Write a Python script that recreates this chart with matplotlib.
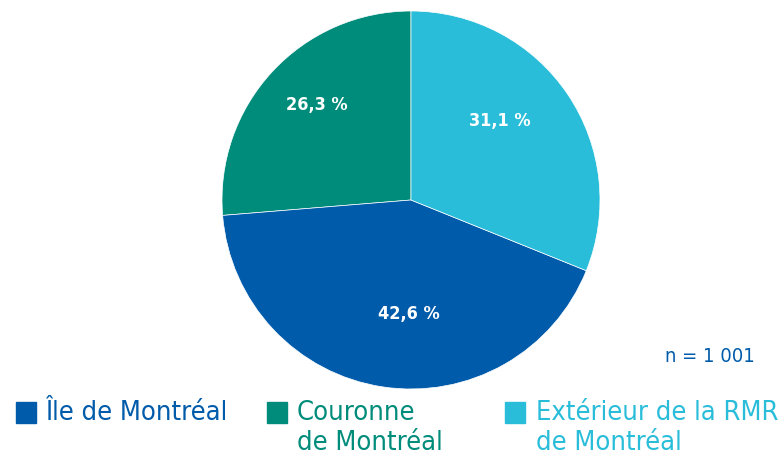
import matplotlib
matplotlib.use("Agg")
import matplotlib.pyplot as plt
from matplotlib.patches import Rectangle

# data (counter-clockwise from the top)
categories = ["Couronne\nde Montréal", "Île de Montréal", "Extérieur de la RMR\nde Montréal"]
shares = [26.3, 42.6, 31.1]
colors = ["#008C7B", "#005BAA", "#29BDD9"]
n_label = "n = 1 001"
# label spots inside the pie (pie units)
label_xy = [(-0.50, 0.50), (-0.01, -0.605), (0.47, 0.42)]

# legend order as in the reference
legend_order = [1, 0, 2]

plt.rcParams["font.family"] = ["DejaVu Sans"]
plt.rcParams["font.stretch"] = "condensed"

W, H = 782, 455
fig = plt.figure(figsize=(W / 100, H / 100), dpi=100)

# pie centred at (411, 200) px, radius 189 px
cx, cy, r = 411, 200, 189
ax = fig.add_axes([(cx - r) / W, (H - cy - r) / H, 2 * r / W, 2 * r / H])
wedges, texts, autotexts = ax.pie(
    shares, colors=colors, startangle=90, counterclock=True,
    autopct=lambda p: f"{p:.1f} %".replace(".", ","),
    wedgeprops=dict(linewidth=0.5, edgecolor="white"),
    textprops=dict(color="white", fontsize=13, fontweight="bold"))
for t, xy in zip(autotexts, label_xy):
    t.set_position(xy)
ax.set_xlim(-1, 1)
ax.set_ylim(-1, 1)
ax.set_aspect("equal")
ax.axis("off")

fig.text(755 / W, 1 - 357 / H, n_label, ha="right", va="center",
         color="#005BAA", fontsize=14.5)

# legend (square left edge, text left edge in px)
leg_sq = [16, 267, 505]
leg_tx = [45, 297, 536]
for sq, tx, idx in zip(leg_sq, leg_tx, legend_order):
    fig.patches.append(Rectangle((sq / W, 1 - 423 / H), 20 / W, 21 / H,
                                 transform=fig.transFigure, color=colors[idx]))
    fig.text(tx / W, 1 - 400 / H, categories[idx], ha="left", va="top",
             color=colors[idx], fontsize=19.5, linespacing=1.2)

fig.savefig("out.png", dpi=100)
